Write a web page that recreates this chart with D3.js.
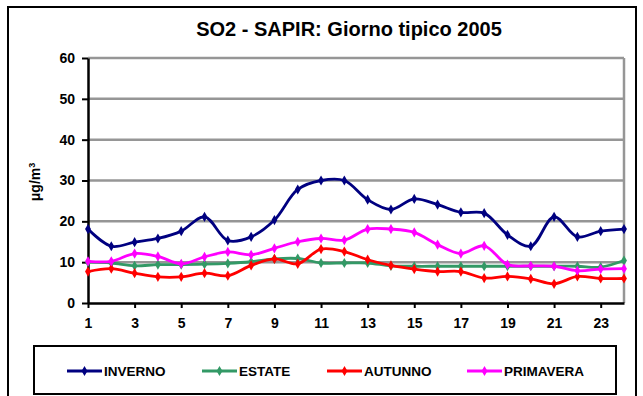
<!DOCTYPE html>
<html>
<head>
<meta charset="utf-8">
<script src="https://cdn.jsdelivr.net/npm/d3@7/dist/d3.min.js"></script>
<style>
  html, body { margin: 0; padding: 0; background: #fff; }
  svg { display: block; font-family: Arial, "Liberation Sans", sans-serif; }
</style>
</head>
<body>
<svg id="chart" width="643" height="396"></svg>
<script>
// Hour of the day (typical day)
const hours = d3.range(1, 25);
const tickHours = [1, 3, 5, 7, 9, 11, 13, 15, 17, 19, 21, 23];
const yTicks = [0, 10, 20, 30, 40, 50, 60];

// SO2 concentration, µg/m³, by season
const inverno   = [18.1, 13.9, 14.9, 15.8, 17.6, 21.1, 15.3, 16.2, 20.3, 27.8, 30.0, 30.0,
                   25.3, 22.9, 25.5, 24.1, 22.2, 22.0, 16.7, 13.9, 21.1, 16.2, 17.6, 18.1];
const estate    = [10.0, 9.8, 9.1, 9.4, 9.4, 9.5, 9.7, 10.1, 10.8, 10.9, 9.8, 9.8,
                   9.8, 9.1, 9.0, 9.0, 9.0, 9.0, 9.0, 9.0, 9.0, 9.0, 8.8, 10.4];
const autunno   = [7.7, 8.4, 7.3, 6.4, 6.4, 7.3, 6.7, 9.2, 10.8, 9.6, 13.2, 12.6,
                   10.6, 9.2, 8.3, 7.7, 7.7, 6.1, 6.5, 5.9, 4.7, 6.5, 6.0, 6.0];
const primavera = [10.2, 10.2, 12.1, 11.4, 9.6, 11.3, 12.5, 11.8, 13.4, 15.0, 15.8, 15.4,
                   18.1, 18.1, 17.3, 14.3, 12.1, 14.0, 9.4, 9.1, 9.0, 7.9, 8.3, 8.4];

const seriesNames  = ["INVERNO", "ESTATE", "AUTUNNO", "PRIMAVERA"];
const seriesColors = ["#000080", "#339966", "#FF0000", "#FF00FF"];
const seriesValues = [inverno, estate, autunno, primavera];

const svg = d3.select("#chart");

// outer chart frame
svg.append("rect")
  .attr("x", 8).attr("y", 7).attr("width", 628).attr("height", 400)
  .attr("fill", "#fff").attr("stroke", "#000").attr("stroke-width", 2);

// title
svg.append("text")
  .attr("x", 349).attr("y", 36)
  .attr("text-anchor", "middle")
  .attr("font-size", 20).attr("font-weight", "bold")
  .text("SO2 - SAPIR: Giorno tipico 2005");

const plotLeft = 88, plotRight = 624, plotTop = 58, plotBottom = 303;

const x = d3.scalePoint().domain(hours).range([plotLeft, plotRight]);
const y = d3.scaleLinear().domain([0, 60]).range([plotBottom, plotTop]);

// horizontal gridlines
svg.append("g")
  .selectAll("line")
  .data(yTicks.filter(d => d > 0))
  .join("line")
  .attr("x1", plotLeft).attr("x2", plotRight)
  .attr("y1", d => y(d)).attr("y2", d => y(d))
  .attr("stroke", "#969696").attr("stroke-width", 2.5);

// right edge of plot area
svg.append("line")
  .attr("x1", plotRight).attr("x2", plotRight)
  .attr("y1", plotTop).attr("y2", plotBottom)
  .attr("stroke", "#969696").attr("stroke-width", 2.5);

// y axis
const yAxis = svg.append("g")
  .attr("transform", `translate(${plotLeft},0)`)
  .call(d3.axisLeft(y).tickValues(yTicks).tickSize(6).tickSizeOuter(0).tickPadding(7));
yAxis.select(".domain").attr("stroke", "#000").attr("stroke-width", 2.5);
yAxis.selectAll(".tick line").attr("stroke", "#000").attr("stroke-width", 2);
yAxis.selectAll(".tick text")
  .attr("font-size", 14).attr("font-weight", "bold").attr("fill", "#000")
  .attr("font-family", "Arial, 'Liberation Sans', sans-serif");

// x axis
const xAxis = svg.append("g")
  .attr("transform", `translate(0,${plotBottom})`)
  .call(d3.axisBottom(x).tickValues(tickHours).tickSize(5).tickSizeOuter(0).tickPadding(10));
xAxis.select(".domain").attr("stroke", "#000").attr("stroke-width", 2.5);
xAxis.selectAll(".tick line").attr("stroke", "#000").attr("stroke-width", 2);
xAxis.selectAll(".tick text")
  .attr("font-size", 14).attr("font-weight", "bold").attr("fill", "#000")
  .attr("font-family", "Arial, 'Liberation Sans', sans-serif");

// y axis unit
svg.append("text")
  .attr("transform", "translate(40,182) rotate(-90)")
  .attr("text-anchor", "middle")
  .attr("font-size", 14).attr("font-weight", "bold")
  .html('&#956;g/m<tspan dy="-5" font-size="9">3</tspan>');

// series lines
const line = d3.line()
  .x((d, i) => x(hours[i]))
  .y(d => y(d))
  .curve(d3.curveCatmullRom.alpha(0.5));

const diamond = d3.symbol().type(d3.symbolDiamond).size(30);

seriesValues.forEach((vals, s) => {
  const g = svg.append("g");
  g.append("path")
    .datum(vals)
    .attr("d", line)
    .attr("fill", "none")
    .attr("stroke", seriesColors[s])
    .attr("stroke-width", 2.8)
    .attr("stroke-linejoin", "round");
  g.selectAll("path.mk")
    .data(vals)
    .join("path")
    .attr("class", "mk")
    .attr("d", diamond)
    .attr("transform", (d, i) => `translate(${x(hours[i])},${y(d)})`)
    .attr("fill", seriesColors[s]);
});

// legend
svg.append("rect")
  .attr("x", 34).attr("y", 346).attr("width", 582).attr("height", 48)
  .attr("fill", "#fff").attr("stroke", "#000").attr("stroke-width", 2);

const legendX = [67, 202, 327, 467];
seriesNames.forEach((name, s) => {
  const g = svg.append("g").attr("transform", `translate(${legendX[s]},371)`);
  g.append("line")
    .attr("x1", 0).attr("x2", 35).attr("y1", 0).attr("y2", 0)
    .attr("stroke", seriesColors[s]).attr("stroke-width", 2.8);
  g.append("path")
    .attr("d", diamond)
    .attr("transform", "translate(17.5,0)")
    .attr("fill", seriesColors[s]);
  g.append("text")
    .attr("x", 37).attr("y", 0).attr("dy", "0.36em")
    .attr("font-size", 13.5).attr("font-weight", "bold")
    .text(name);
});
</script>
</body>
</html>
